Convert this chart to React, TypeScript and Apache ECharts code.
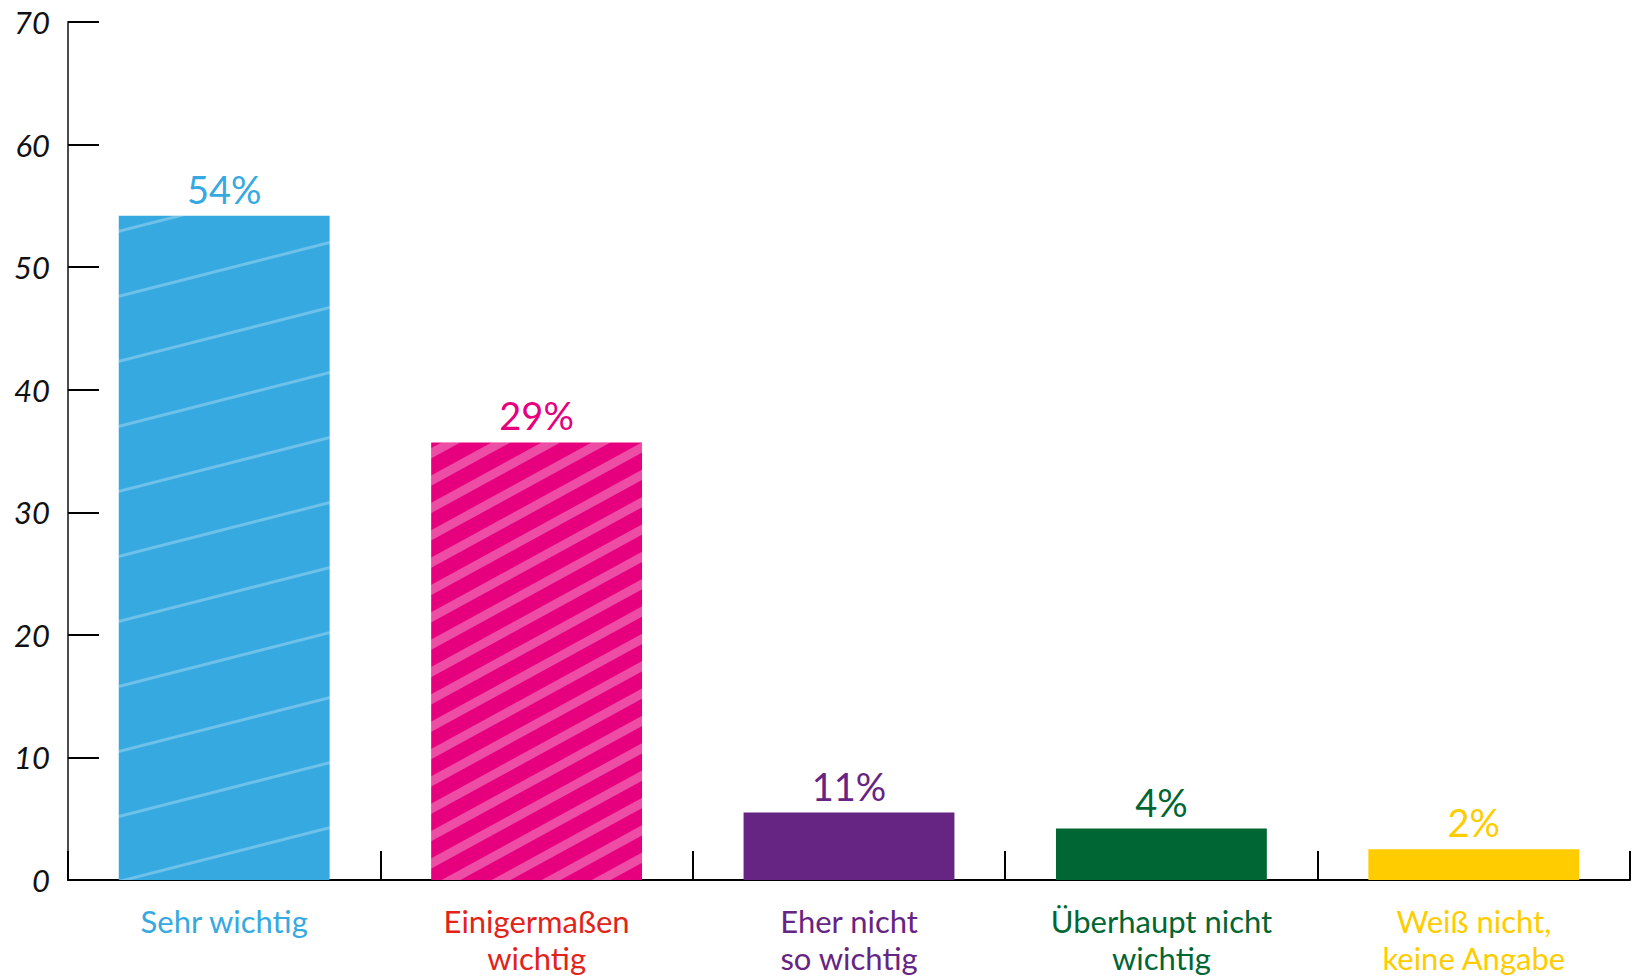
import React, { useEffect, useRef } from "react";
import * as echarts from "echarts";

const categories = [
  "Sehr wichtig",
  "Einigermaßen\nwichtig",
  "Eher nicht\nso wichtig",
  "Überhaupt nicht\nwichtig",
  "Weiß nicht,\nkeine Angabe",
];
const barValues = [54.2, 35.7, 5.5, 4.2, 2.5];
const valueLabels = ["54%", "29%", "11%", "4%", "2%"];
const barColors = ["#36a9e1", "#e6007e", "#662483", "#006633", "#ffcc00"];
const valueLabelColors = ["#36a9e1", "#e6007e", "#662483", "#006633", "#ffcc00"];
const categoryLabelColors = ["#36a9e1", "#e2231a", "#662483", "#006633", "#ffcc00"];
const yTicks = [0, 10, 20, 30, 40, 50, 60, 70];

const FONT = "Lato, 'Open Sans', sans-serif";

const decals: any[] = [
  {
    symbol: "rect",
    symbolSize: 1,
    color: "rgba(255,255,255,0.28)",
    dashArrayX: [1, 0],
    dashArrayY: [3, 60],
    rotation: -0.25,
  },
  {
    symbol: "rect",
    symbolSize: 1,
    color: "rgba(255,255,255,0.3)",
    dashArrayX: [1, 0],
    dashArrayY: [9, 15],
    rotation: -0.5,
  },
  null,
  null,
  null,
];

export default function App() {
  const ref = useRef<HTMLDivElement>(null);
  useEffect(() => {
    if (!ref.current) return;
    const chart = echarts.init(ref.current, undefined, { renderer: "svg" });
    chart.setOption({
      animation: false,
      backgroundColor: "#ffffff",
      textStyle: { fontFamily: FONT },
      grid: { left: 68, right: 6, top: 22, bottom: 99, containLabel: false },
      xAxis: {
        type: "category",
        data: categories,
        boundaryGap: true,
        axisLine: { show: true, lineStyle: { color: "#000", width: 2 } },
        axisTick: {
          show: true,
          inside: true,
          length: 29,
          alignWithLabel: false,
          lineStyle: { color: "#000", width: 2 },
        },
        axisLabel: {
          margin: 22,
          fontSize: 31,
          lineHeight: 37,
          fontFamily: FONT,
          interval: 0,
          color: (_v: any, i: number) => categoryLabelColors[i],
        },
        splitLine: { show: false },
      },
      yAxis: {
        type: "value",
        min: yTicks[0],
        max: yTicks[yTicks.length - 1],
        interval: 10,
        axisLine: { show: true, lineStyle: { color: "#4d4d4d", width: 2 } },
        axisTick: {
          show: true,
          inside: true,
          length: 31,
          lineStyle: { color: "#000", width: 2 },
        },
        axisLabel: {
          margin: 18,
          fontSize: 31,
          fontStyle: "italic",
          color: "#111",
          fontFamily: FONT,
        },
        splitLine: { show: false },
      },
      series: [
        {
          type: "bar",
          barWidth: "67.5%",
          data: barValues.map((v, i) => ({
            value: v,
            itemStyle: decals[i]
              ? { color: barColors[i], decal: decals[i] }
              : { color: barColors[i] },
            label: {
              show: true,
              position: "top",
              distance: 8,
              formatter: () => valueLabels[i],
              color: valueLabelColors[i],
              fontSize: 38,
              fontFamily: FONT,
            },
          })),
        },
      ],
    });
    return () => chart.dispose();
  }, []);
  return (
    <div
      ref={ref}
      style={{ position: "fixed", left: 0, top: 0, width: 1636, height: 979 }}
    />
  );
}
